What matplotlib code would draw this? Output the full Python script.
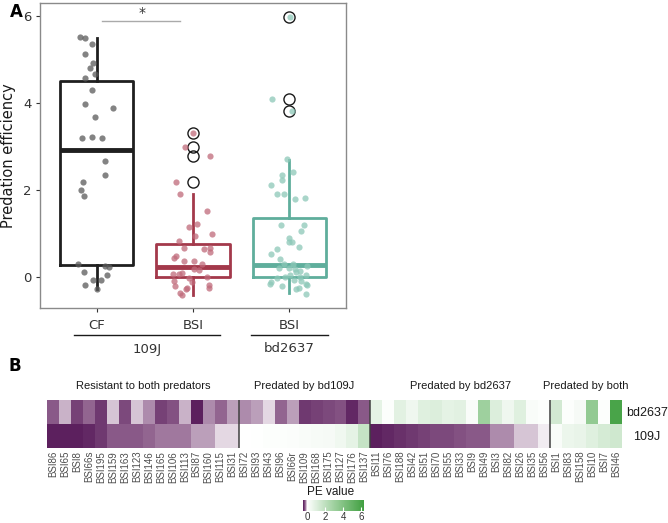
import matplotlib
matplotlib.use("Agg")
import matplotlib.pyplot as plt
import numpy as np
from matplotlib.colors import LinearSegmentedColormap, Normalize
from matplotlib.lines import Line2D

W, H = 668, 523

# ---- panel A: jittered points (x offset from group centre, PE value) ----
cf_dx = [-0.177, -0.125, -0.045, -0.118, -0.042, -0.066, -0.122, -0.017, -0.045, -0.118,
         0.170, -0.021, -0.153, -0.045, 0.056, 0.090, 0.087, -0.142, -0.160, -0.132,
         -0.191, 0.087, 0.128, -0.135, 0.108, -0.038, 0.042, -0.122, 0.003]
cf_pe = [5.51, 5.49, 5.35, 5.12, 4.91, 4.80, 4.58, 4.66, 4.30, 3.98,
         3.88, 3.67, 3.20, 3.23, 3.20, 2.66, 2.34, 2.18, 2.00, 1.86,
         0.31, 0.26, 0.24, 0.11, 0.05, -0.07, -0.07, -0.17, -0.27]

bsi109_dx = [-0.003, -0.080, 0.180, -0.174, -0.139, 0.149, 0.038, -0.038, 0.198, 0.017,
             -0.146, -0.097, 0.174, 0.115, -0.181, -0.094, 0.010, 0.174, -0.205, -0.118,
             -0.149, 0.014, -0.201, 0.149, -0.042, -0.014, -0.191, 0.167, 0.163, -0.063,
             -0.073, -0.132, -0.118, 0.066, 0.097, -0.194]
bsi109_pe = [3.32, 3.00, 2.78, 2.19, 1.92, 1.52, 1.23, 1.16, 1.00, 0.94,
             0.83, 0.68, 0.66, 0.64, 0.48, 0.37, 0.37, 0.57, 0.08, 0.10,
             0.07, 0.18, -0.09, 0.01, -0.02, -0.11, -0.21, -0.17, -0.24, -0.24,
             -0.27, -0.36, -0.41, 0.16, 0.29, 0.43]

bsi2637_dx = [0.003, -0.174, 0.028, -0.024, 0.035, -0.080, -0.073, -0.191, -0.122, -0.052,
              0.056, 0.160, -0.087, 0.149, 0.122, -0.007, 0.024, -0.003, 0.104, -0.132,
              -0.191, -0.101, -0.059, 0.038, -0.108, -0.007, 0.056, 0.181, 0.108, 0.066,
              -0.122, -0.042, 0.003, 0.115, 0.177, 0.045, -0.198, -0.188, -0.073, 0.101,
              0.066, 0.177, 0.184, 0.177, 0.122]
bsi2637_pe = [5.97, 4.10, 3.82, 2.72, 2.41, 2.35, 2.24, 2.11, 1.91, 1.92,
              1.79, 1.81, 1.20, 1.20, 1.06, 0.89, 0.81, 0.80, 0.70, 0.64,
              0.54, 0.42, 0.31, 0.31, 0.22, 0.21, 0.19, 0.26, 0.13, 0.12,
              -0.01, 0.01, 0.05, 0.01, 0.05, -0.07, -0.16, -0.11, -0.21, -0.24,
              -0.28, -0.16, -0.18, -0.38, -0.09]

# box statistics
box_labels = ["CF", "BSI", "BSI"]
box_q1 = [0.28, 0.0, 0.0]
box_med = [2.92, 0.24, 0.28]
box_q3 = [4.51, 0.77, 1.35]
box_lo = [-0.28, -0.41, -0.36]
box_hi = [5.49, 1.91, 2.70]
box_fliers = [[], [3.32, 3.00, 2.78, 2.19], [5.97, 4.09, 3.82]]

# ---- panel B: heatmap ----
heat_groups = ["Resistant to both predators", "Predated by bd109J",
               "Predated by bd2637", "Predated by both"]
group_sizes = [16, 11, 15, 6]
strains = ["BSI86", "BSI65", "BSI8", "BSI66s", "BSI195", "BSI159", "BSI163", "BSI123",
           "BSI146", "BSI165", "BSI106", "BSI113", "BSI87", "BSI160", "BSI115", "BSI31",
           "BSI72", "BSI93", "BSI43", "BSI96", "BSI66r", "BSI109", "BSI168", "BSI175",
           "BSI127", "BSI176", "BSI137",
           "BSI11", "BSI76", "BSI188", "BSI42", "BSI51", "BSI70", "BSI55", "BSI33",
           "BSI9", "BSI49", "BSI3", "BSI82", "BSI26", "BSI35", "BSI56",
           "BSI1", "BSI83", "BSI158", "BSI10", "BSI7", "BSI46"]
pe_bd2637 = [-0.22, -0.10, -0.30, -0.20, -0.33, -0.07, -0.27, -0.07,
             -0.15, -0.30, -0.25, -0.10, -0.42, -0.14, -0.20, -0.12,
             -0.15, -0.11, -0.04, -0.20, -0.12, -0.33, -0.31, -0.28,
             -0.25, -0.38, -0.22,
             0.8, 0.1, 0.9, 0.5, 1.0, 1.1, 0.8, 0.9,
             0.2, 3.0, 1.1, 0.5, 1.0, 0.2, 0.1,
             1.4, 0.1, 0.3, 3.4, 0.1, 5.95]
pe_109j = [-0.42, -0.42, -0.40, -0.39, -0.34, -0.22, -0.22, -0.22,
           -0.19, -0.17, -0.17, -0.16, -0.13, -0.11, -0.04, -0.04,
           0.02, 0.05, 0.08, 0.10, 0.15, 0.20, 0.25, 0.30,
           0.45, 0.80, 1.80,
           -0.42, -0.38, -0.36, -0.34, -0.30, -0.28, -0.28, -0.25,
           -0.23, -0.22, -0.15, -0.14, -0.08, -0.07, -0.02,
           0.2, 0.6, 0.7, 1.0, 1.3, 1.5]

pe_min, pe_max = -0.45, 6.3


def px_rect(left, top, right, bottom):
    return [left / W, 1 - bottom / H, (right - left) / W, (bottom - top) / H]


fig = plt.figure(figsize=(W / 100, H / 100), dpi=100)

# ================= panel A =================
ax = fig.add_axes(px_rect(40, 3, 346, 308))
line_cols = ["#1f1f1f", "#a3394b", "#5fae9c"]
pt_cols = ["#5a5a5a", "#c06a7a", "#8cc8b8"]
pts = [(cf_dx, cf_pe), (bsi109_dx, bsi109_pe), (bsi2637_dx, bsi2637_pe)]

for i, (dx, pe) in enumerate(pts):
    pos = i + 1
    stats = [dict(q1=box_q1[i], med=box_med[i], q3=box_q3[i],
                  whislo=box_lo[i], whishi=box_hi[i], fliers=box_fliers[i])]
    c = line_cols[i]
    ax.bxp(stats, positions=[pos], widths=0.76, showcaps=False,
           boxprops=dict(color=c, lw=2),
           whiskerprops=dict(color=c, lw=2),
           medianprops=dict(color=c, lw=3.5),
           flierprops=dict(marker="o", markerfacecolor="none",
                           markeredgecolor="#1a1a1a", markersize=8, mew=1),
           zorder=2)
    ax.scatter(np.array(dx) + pos, pe, s=20, color=pt_cols[i], alpha=0.75,
               lw=0, zorder=3)

ax.set_xlim(0.41, 3.59)
ax.set_ylim(-0.71, 6.3)
ax.set_yticks([0, 2, 4, 6])
ax.set_xticks([1, 2, 3])
ax.set_xticklabels(box_labels)
ax.tick_params(axis="both", labelsize=9.5, colors="#333333", length=3,
               width=0.8, pad=3)
ax.tick_params(axis="x", pad=5)
ax.set_ylabel("Predation efficiency", fontsize=10.5, labelpad=5, color="#1a1a1a")
for s in ax.spines.values():
    s.set_color("#8a8a8a")
    s.set_linewidth(1)

# significance bar
ax.plot([1.05, 1.86], [5.88, 5.88], color="#aaaaaa", lw=1)
ax.text(1.47, 5.9, "*", ha="center", va="bottom", fontsize=10, color="#333333")

# overlay in pixel coordinates for annotations
ov = fig.add_axes([0, 0, 1, 1], facecolor="none")
ov.set_xlim(0, W)
ov.set_ylim(H, 0)
ov.axis("off")
ov.text(16, 12, "A", fontsize=12, fontweight="bold", ha="center", va="center")
ov.text(15, 366, "B", fontsize=12, fontweight="bold", ha="center", va="center")
ov.add_line(Line2D([74, 220], [335, 335], color="#1a1a1a", lw=1))
ov.add_line(Line2D([251, 328], [335, 335], color="#1a1a1a", lw=1))
ov.text(147, 349, "109J", fontsize=9.5, ha="center", va="center", color="#333333")
ov.text(289, 349, "bd2637", fontsize=9.5, ha="center", va="center", color="#333333")

# ================= panel B =================
cmap = LinearSegmentedColormap.from_list(
    "pe", [(0.0, "#551858"),
           ((-0.22 - pe_min) / (pe_max - pe_min), "#8e5f8c"),
           ((0 - pe_min) / (pe_max - pe_min), "#ffffff"),
           ((3.0 - pe_min) / (pe_max - pe_min), "#9ed09e"),
           (1.0, "#3f9f3f")])
norm = Normalize(pe_min, pe_max)

hx = fig.add_axes(px_rect(47, 400, 622, 448))
mat = np.array([pe_109j, pe_bd2637])
im = hx.pcolormesh(np.arange(len(strains) + 1), [0, 1, 2], mat, cmap=cmap,
                   norm=norm, shading="flat")
hx.set_xlim(0, len(strains))
hx.set_ylim(0, 2)
for s in hx.spines.values():
    s.set_visible(False)
hx.set_yticks([])
hx.set_xticks(np.arange(len(strains)) + 0.5)
hx.set_xticklabels(strains, rotation=90, fontsize=7, family="Liberation Sans",
                   color="#4d4d4d")
hx.tick_params(axis="x", length=0, pad=2)

bounds = np.cumsum([0] + group_sizes)
for b in bounds[1:-1]:
    hx.plot([b, b], [0, 2], color="#404040", lw=1.1)
for g, a, b in zip(heat_groups, bounds[:-1], bounds[1:]):
    hx.text((a + b) / 2, 2.58, g, ha="center", va="center", fontsize=8,
            family="Liberation Sans", color="#1a1a1a", clip_on=False)
hx.text(50.1, 1.47, "bd2637", ha="center", va="center", fontsize=9,
        family="Liberation Sans", color="#1a1a1a", clip_on=False)
hx.text(50.1, 0.45, "109J", ha="center", va="center", fontsize=9,
        family="Liberation Sans", color="#1a1a1a", clip_on=False)

cax = fig.add_axes(px_rect(303, 500, 364, 511))
cb = fig.colorbar(im, cax=cax, orientation="horizontal", ticks=[0, 2, 4, 6])
cb.outline.set_visible(False)
cax.tick_params(axis="x", direction="in", color="white", length=3, width=0.8,
                labelsize=7, pad=1, labelcolor="#333333")
for t in cax.get_xticklabels():
    t.set_family("Liberation Sans")
ov.text(331, 492, "PE value", ha="center", va="center", fontsize=8.5,
        family="Liberation Sans", color="#1a1a1a")

fig.savefig("out.png", dpi=100)
